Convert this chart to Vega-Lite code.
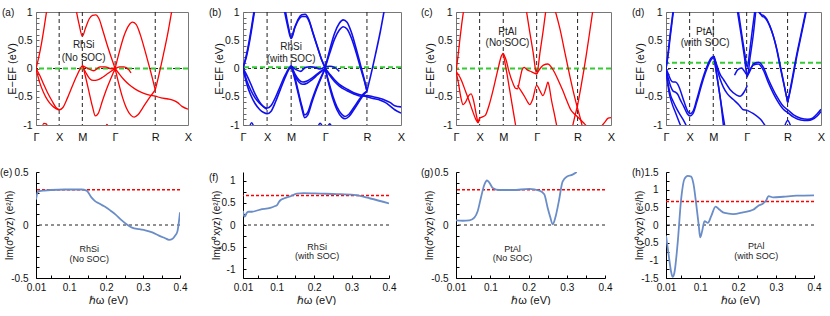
{
"$schema":"https://vega.github.io/schema/vega-lite/v6.json",
"padding":{"left":0,"top":6,"right":0,"bottom":0},
"columns":4,
"bounds":"flush",
"align":"each",
"spacing":{"row":47,"column":55},
"config":{
 "font":"Liberation Sans",
 "view":{"stroke":"#777","strokeWidth":1},
 "axis":{"grid":false,"labelFont":"Liberation Sans","titleFont":"Liberation Sans","labelFontSize":10,"titleFontSize":11,"titleFontWeight":"normal","labelColor":"#111","titleColor":"#111","tickColor":"#666","domainColor":"#000","labelOverlap":false,"labelFlush":false,"tickCount":100},
 "title":{"anchor":"start","frame":"group","offset":0,"baseline":"top","fontSize":10,"fontWeight":"normal","font":"Liberation Sans","color":"#111"}
},
"datasets":{
"ba":[
{"b":"a1","k":0,"E":0},{"b":"a1","k":0.06,"E":0.2},{"b":"a1","k":0.12,"E":0.45},{"b":"a1","k":0.18,"E":0.75},{"b":"a1","k":0.23,"E":1.02},
{"b":"a2","k":0,"E":0},{"b":"a2","k":0.08,"E":-0.25},{"b":"a2","k":0.16,"E":-0.42},{"b":"a2","k":0.25,"E":-0.56},{"b":"a2","k":0.35,"E":-0.66},{"b":"a2","k":0.43,"E":-0.71},{"b":"a2","k":0.5,"E":-0.73},{"b":"a2","k":0.58,"E":-0.69},{"b":"a2","k":0.68,"E":-0.52},{"b":"a2","k":0.78,"E":-0.32},{"b":"a2","k":0.88,"E":-0.13},{"b":"a2","k":0.95,"E":-0.01},{"b":"a2","k":1,"E":0.05},{"b":"a2","k":1.06,"E":-0.12},{"b":"a2","k":1.14,"E":-0.4},{"b":"a2","k":1.22,"E":-0.68},{"b":"a2","k":1.28,"E":-0.84},{"b":"a2","k":1.34,"E":-0.8},{"b":"a2","k":1.43,"E":-0.58},{"b":"a2","k":1.53,"E":-0.35},{"b":"a2","k":1.62,"E":-0.17},{"b":"a2","k":1.707,"E":0},
{"b":"a3","k":0,"E":0},{"b":"a3","k":0.08,"E":-0.12},{"b":"a3","k":0.16,"E":-0.27},{"b":"a3","k":0.25,"E":-0.43},{"b":"a3","k":0.35,"E":-0.58},{"b":"a3","k":0.43,"E":-0.69},{"b":"a3","k":0.5,"E":-0.73},
{"b":"a4","k":1,"E":0.05},{"b":"a4","k":1.08,"E":-0.08},{"b":"a4","k":1.16,"E":-0.18},{"b":"a4","k":1.24,"E":-0.21},{"b":"a4","k":1.33,"E":-0.2},{"b":"a4","k":1.43,"E":-0.16},{"b":"a4","k":1.55,"E":-0.09},{"b":"a4","k":1.707,"E":0},
{"b":"a5","k":1,"E":0.05},{"b":"a5","k":1.12,"E":0},{"b":"a5","k":1.25,"E":-0.04},{"b":"a5","k":1.38,"E":0.03},{"b":"a5","k":1.5,"E":0.03},{"b":"a5","k":1.6,"E":0},{"b":"a5","k":1.707,"E":0},{"b":"a5","k":1.8,"E":0.03},{"b":"a5","k":1.9,"E":0.03},{"b":"a5","k":2,"E":-0.02},{"b":"a5","k":2.05,"E":-0.08},
{"b":"a6","k":0.87,"E":1.02},{"b":"a6","k":0.93,"E":0.78},{"b":"a6","k":1,"E":0.57},{"b":"a6","k":1.07,"E":0.72},{"b":"a6","k":1.15,"E":0.88},{"b":"a6","k":1.22,"E":0.94},{"b":"a6","k":1.29,"E":0.95},{"b":"a6","k":1.36,"E":0.88},{"b":"a6","k":1.45,"E":0.65},{"b":"a6","k":1.55,"E":0.38},{"b":"a6","k":1.63,"E":0.18},{"b":"a6","k":1.707,"E":0},
{"b":"a7","k":1.707,"E":0},{"b":"a7","k":1.8,"E":0.3},{"b":"a7","k":1.9,"E":0.58},{"b":"a7","k":2,"E":0.76},{"b":"a7","k":2.08,"E":0.82},{"b":"a7","k":2.16,"E":0.78},{"b":"a7","k":2.25,"E":0.6},{"b":"a7","k":2.35,"E":0.32},{"b":"a7","k":2.45,"E":0.02},{"b":"a7","k":2.52,"E":-0.2},{"b":"a7","k":2.573,"E":-0.38},
{"b":"a8","k":1.707,"E":0},{"b":"a8","k":1.78,"E":-0.25},{"b":"a8","k":1.87,"E":-0.52},{"b":"a8","k":1.95,"E":-0.7},{"b":"a8","k":2.05,"E":-0.83},{"b":"a8","k":2.12,"E":-0.86},{"b":"a8","k":2.2,"E":-0.82},{"b":"a8","k":2.3,"E":-0.7},{"b":"a8","k":2.42,"E":-0.55},{"b":"a8","k":2.5,"E":-0.46},{"b":"a8","k":2.573,"E":-0.38},
{"b":"a9","k":1.707,"E":0},{"b":"a9","k":1.8,"E":-0.1},{"b":"a9","k":1.9,"E":-0.2},{"b":"a9","k":2,"E":-0.28},{"b":"a9","k":2.15,"E":-0.37},{"b":"a9","k":2.3,"E":-0.43},{"b":"a9","k":2.45,"E":-0.47},{"b":"a9","k":2.573,"E":-0.49},{"b":"a9","k":2.7,"E":-0.52},{"b":"a9","k":2.85,"E":-0.54},{"b":"a9","k":2.95,"E":-0.56},{"b":"a9","k":3.05,"E":-0.6},{"b":"a9","k":3.15,"E":-0.67},{"b":"a9","k":3.28,"E":-0.72},
{"b":"a10","k":2.573,"E":-0.38},{"b":"a10","k":2.65,"E":-0.12},{"b":"a10","k":2.75,"E":0.25},{"b":"a10","k":2.85,"E":0.65},{"b":"a10","k":2.93,"E":1.02},
{"b":"a11","k":0.13,"E":-1.05},{"b":"a11","k":0.17,"E":-0.97},{"b":"a11","k":0.22,"E":-0.98},{"b":"a11","k":0.26,"E":-1.05},
{"b":"a12","k":1.5,"E":-1.05},{"b":"a12","k":1.53,"E":-0.99},{"b":"a12","k":1.57,"E":-1.05}
],
"bb":[
{"b":"b1","k":0,"E":0},{"b":"b1","k":0.06,"E":0.2},{"b":"b1","k":0.12,"E":0.45},{"b":"b1","k":0.18,"E":0.75},{"b":"b1","k":0.23,"E":1.02},
{"b":"b1b","k":0,"E":0.02},{"b":"b1b","k":0.068,"E":0.2},{"b":"b1b","k":0.13,"E":0.45},{"b":"b1b","k":0.19,"E":0.75},{"b":"b1b","k":0.24,"E":1.02},
{"b":"b2","k":0,"E":0},{"b":"b2","k":0.08,"E":-0.28},{"b":"b2","k":0.16,"E":-0.47},{"b":"b2","k":0.25,"E":-0.62},{"b":"b2","k":0.35,"E":-0.73},{"b":"b2","k":0.43,"E":-0.78},{"b":"b2","k":0.5,"E":-0.8},{"b":"b2","k":0.58,"E":-0.76},{"b":"b2","k":0.68,"E":-0.58},{"b":"b2","k":0.78,"E":-0.36},{"b":"b2","k":0.88,"E":-0.15},{"b":"b2","k":0.95,"E":-0.02},{"b":"b2","k":1,"E":0.03},{"b":"b2","k":1.06,"E":-0.14},{"b":"b2","k":1.14,"E":-0.42},{"b":"b2","k":1.22,"E":-0.7},{"b":"b2","k":1.28,"E":-0.87},{"b":"b2","k":1.34,"E":-0.83},{"b":"b2","k":1.43,"E":-0.6},{"b":"b2","k":1.53,"E":-0.36},{"b":"b2","k":1.62,"E":-0.17},{"b":"b2","k":1.707,"E":0},
{"b":"b2b","k":0,"E":0},{"b":"b2b","k":0.08,"E":-0.22},{"b":"b2b","k":0.16,"E":-0.38},{"b":"b2b","k":0.25,"E":-0.52},{"b":"b2b","k":0.35,"E":-0.62},{"b":"b2b","k":0.43,"E":-0.68},{"b":"b2b","k":0.5,"E":-0.7},{"b":"b2b","k":0.58,"E":-0.66},{"b":"b2b","k":0.68,"E":-0.5},{"b":"b2b","k":0.78,"E":-0.3},{"b":"b2b","k":0.88,"E":-0.11},{"b":"b2b","k":0.95,"E":0},{"b":"b2b","k":1,"E":0.05},{"b":"b2b","k":1.06,"E":-0.1},{"b":"b2b","k":1.14,"E":-0.38},{"b":"b2b","k":1.22,"E":-0.66},{"b":"b2b","k":1.28,"E":-0.82},{"b":"b2b","k":1.34,"E":-0.78},{"b":"b2b","k":1.43,"E":-0.56},{"b":"b2b","k":1.53,"E":-0.33},{"b":"b2b","k":1.62,"E":-0.15},{"b":"b2b","k":1.707,"E":0},
{"b":"b3","k":0,"E":0},{"b":"b3","k":0.08,"E":-0.12},{"b":"b3","k":0.16,"E":-0.27},{"b":"b3","k":0.25,"E":-0.45},{"b":"b3","k":0.35,"E":-0.6},{"b":"b3","k":0.43,"E":-0.68},{"b":"b3","k":0.5,"E":-0.72},
{"b":"b4","k":1,"E":0.05},{"b":"b4","k":1.08,"E":-0.1},{"b":"b4","k":1.16,"E":-0.2},{"b":"b4","k":1.24,"E":-0.24},{"b":"b4","k":1.33,"E":-0.22},{"b":"b4","k":1.43,"E":-0.17},{"b":"b4","k":1.55,"E":-0.09},{"b":"b4","k":1.707,"E":0},
{"b":"b4b","k":1,"E":0.04},{"b":"b4b","k":1.08,"E":-0.13},{"b":"b4b","k":1.16,"E":-0.24},{"b":"b4b","k":1.24,"E":-0.28},{"b":"b4b","k":1.33,"E":-0.26},{"b":"b4b","k":1.43,"E":-0.2},{"b":"b4b","k":1.55,"E":-0.11},{"b":"b4b","k":1.707,"E":0},
{"b":"b5","k":1,"E":0.04},{"b":"b5","k":1.1,"E":-0.02},{"b":"b5","k":1.2,"E":-0.05},{"b":"b5","k":1.3,"E":0.02},{"b":"b5","k":1.4,"E":0.03},{"b":"b5","k":1.5,"E":0.02},{"b":"b5","k":1.6,"E":-0.01},{"b":"b5","k":1.707,"E":0.03},{"b":"b5","k":1.8,"E":0.04},{"b":"b5","k":1.9,"E":0.02},{"b":"b5","k":2,"E":-0.05},
{"b":"b6","k":0.88,"E":1.02},{"b":"b6","k":0.94,"E":0.75},{"b":"b6","k":1,"E":0.55},{"b":"b6","k":1.07,"E":0.72},{"b":"b6","k":1.15,"E":0.88},{"b":"b6","k":1.22,"E":0.95},{"b":"b6","k":1.29,"E":0.96},{"b":"b6","k":1.36,"E":0.88},{"b":"b6","k":1.45,"E":0.64},{"b":"b6","k":1.55,"E":0.37},{"b":"b6","k":1.63,"E":0.16},{"b":"b6","k":1.707,"E":0.02},
{"b":"b6b","k":0.86,"E":1.02},{"b":"b6b","k":0.93,"E":0.74},{"b":"b6b","k":1,"E":0.53},{"b":"b6b","k":1.08,"E":0.73},{"b":"b6b","k":1.16,"E":0.87},{"b":"b6b","k":1.23,"E":0.92},{"b":"b6b","k":1.3,"E":0.92},{"b":"b6b","k":1.37,"E":0.84},{"b":"b6b","k":1.46,"E":0.6},{"b":"b6b","k":1.56,"E":0.34},{"b":"b6b","k":1.64,"E":0.14},{"b":"b6b","k":1.707,"E":0},
{"b":"b7","k":1.707,"E":0.02},{"b":"b7","k":1.8,"E":0.33},{"b":"b7","k":1.9,"E":0.62},{"b":"b7","k":2,"E":0.8},{"b":"b7","k":2.08,"E":0.86},{"b":"b7","k":2.16,"E":0.82},{"b":"b7","k":2.25,"E":0.64},{"b":"b7","k":2.35,"E":0.35},{"b":"b7","k":2.45,"E":0.03},{"b":"b7","k":2.52,"E":-0.2},{"b":"b7","k":2.573,"E":-0.4},
{"b":"b7b","k":1.707,"E":0.02},{"b":"b7b","k":1.8,"E":0.27},{"b":"b7b","k":1.9,"E":0.52},{"b":"b7b","k":2,"E":0.68},{"b":"b7b","k":2.08,"E":0.74},{"b":"b7b","k":2.16,"E":0.7},{"b":"b7b","k":2.25,"E":0.54},{"b":"b7b","k":2.35,"E":0.28},{"b":"b7b","k":2.45,"E":-0.02},{"b":"b7b","k":2.52,"E":-0.22},{"b":"b7b","k":2.573,"E":-0.4},
{"b":"b8","k":1.707,"E":0},{"b":"b8","k":1.78,"E":-0.27},{"b":"b8","k":1.87,"E":-0.55},{"b":"b8","k":1.95,"E":-0.73},{"b":"b8","k":2.05,"E":-0.86},{"b":"b8","k":2.12,"E":-0.89},{"b":"b8","k":2.2,"E":-0.85},{"b":"b8","k":2.3,"E":-0.73},{"b":"b8","k":2.42,"E":-0.57},{"b":"b8","k":2.5,"E":-0.47},{"b":"b8","k":2.573,"E":-0.4},
{"b":"b8b","k":1.707,"E":0},{"b":"b8b","k":1.78,"E":-0.24},{"b":"b8b","k":1.87,"E":-0.5},{"b":"b8b","k":1.95,"E":-0.68},{"b":"b8b","k":2.05,"E":-0.81},{"b":"b8b","k":2.12,"E":-0.85},{"b":"b8b","k":2.2,"E":-0.81},{"b":"b8b","k":2.3,"E":-0.69},{"b":"b8b","k":2.42,"E":-0.54},{"b":"b8b","k":2.5,"E":-0.45},{"b":"b8b","k":2.573,"E":-0.4},
{"b":"b9","k":1.707,"E":0},{"b":"b9","k":1.8,"E":-0.1},{"b":"b9","k":1.9,"E":-0.2},{"b":"b9","k":2,"E":-0.28},{"b":"b9","k":2.15,"E":-0.36},{"b":"b9","k":2.3,"E":-0.43},{"b":"b9","k":2.45,"E":-0.47},{"b":"b9","k":2.573,"E":-0.5},{"b":"b9","k":2.7,"E":-0.53},{"b":"b9","k":2.85,"E":-0.56},{"b":"b9","k":2.95,"E":-0.6},{"b":"b9","k":3.05,"E":-0.66},{"b":"b9","k":3.15,"E":-0.73},{"b":"b9","k":3.28,"E":-0.79},
{"b":"b9b","k":1.707,"E":0},{"b":"b9b","k":1.8,"E":-0.12},{"b":"b9b","k":1.9,"E":-0.23},{"b":"b9b","k":2,"E":-0.31},{"b":"b9b","k":2.15,"E":-0.39},{"b":"b9b","k":2.3,"E":-0.45},{"b":"b9b","k":2.45,"E":-0.49},{"b":"b9b","k":2.573,"E":-0.48},{"b":"b9b","k":2.7,"E":-0.5},{"b":"b9b","k":2.85,"E":-0.53},{"b":"b9b","k":2.95,"E":-0.56},{"b":"b9b","k":3.05,"E":-0.6},{"b":"b9b","k":3.15,"E":-0.66},{"b":"b9b","k":3.28,"E":-0.68},
{"b":"b10","k":2.573,"E":-0.4},{"b":"b10","k":2.65,"E":-0.13},{"b":"b10","k":2.75,"E":0.25},{"b":"b10","k":2.85,"E":0.65},{"b":"b10","k":2.93,"E":1.02},
{"b":"b11","k":0.13,"E":-1.05},{"b":"b11","k":0.18,"E":-0.96},{"b":"b11","k":0.23,"E":-1.05},
{"b":"b12","k":1.55,"E":-1.05},{"b":"b12","k":1.6,"E":-0.97},{"b":"b12","k":1.66,"E":-1.05},
{"b":"b13","k":1.75,"E":-1.05},{"b":"b13","k":1.8,"E":-0.98},{"b":"b13","k":1.85,"E":-1.05}
],
"bc":[
{"b":"c1","k":0,"E":-0.05},{"b":"c1","k":0.04,"E":0.2},{"b":"c1","k":0.08,"E":0.5},{"b":"c1","k":0.12,"E":0.78},{"b":"c1","k":0.16,"E":1.02},
{"b":"c2","k":0,"E":-0.05},{"b":"c2","k":0.05,"E":-0.25},{"b":"c2","k":0.1,"E":-0.5},{"b":"c2","k":0.15,"E":-0.64},{"b":"c2","k":0.2,"E":-0.6},{"b":"c2","k":0.27,"E":-0.48},{"b":"c2","k":0.32,"E":-0.45},{"b":"c2","k":0.38,"E":-0.6},{"b":"c2","k":0.43,"E":-0.82},{"b":"c2","k":0.47,"E":-0.95},{"b":"c2","k":0.5,"E":-0.88},{"b":"c2","k":0.55,"E":-0.86},{"b":"c2","k":0.62,"E":-0.83},{"b":"c2","k":0.7,"E":-0.65},{"b":"c2","k":0.8,"E":-0.33},{"b":"c2","k":0.9,"E":0.03},{"b":"c2","k":0.96,"E":0.22},{"b":"c2","k":1,"E":0.27},
{"b":"c3","k":0,"E":-0.05},{"b":"c3","k":0.06,"E":-0.12},{"b":"c3","k":0.12,"E":-0.22},{"b":"c3","k":0.2,"E":-0.4},{"b":"c3","k":0.28,"E":-0.58},{"b":"c3","k":0.35,"E":-0.75},{"b":"c3","k":0.42,"E":-0.9},{"b":"c3","k":0.47,"E":-0.96},{"b":"c3","k":0.5,"E":-0.88},
{"b":"c4","k":1,"E":0.27},{"b":"c4","k":1.06,"E":0.15},{"b":"c4","k":1.12,"E":-0.05},{"b":"c4","k":1.2,"E":-0.25},{"b":"c4","k":1.26,"E":-0.35},{"b":"c4","k":1.3,"E":-0.36},{"b":"c4","k":1.35,"E":-0.2},{"b":"c4","k":1.4,"E":-0.02},{"b":"c4","k":1.44,"E":0.02},{"b":"c4","k":1.5,"E":-0.02},{"b":"c4","k":1.6,"E":-0.06},{"b":"c4","k":1.707,"E":-0.1},
{"b":"c5","k":1,"E":0.27},{"b":"c5","k":1.08,"E":-0.1},{"b":"c5","k":1.15,"E":-0.45},{"b":"c5","k":1.22,"E":-0.8},{"b":"c5","k":1.27,"E":-1.05},
{"b":"c6","k":1.49,"E":1.02},{"b":"c6","k":1.56,"E":0.65},{"b":"c6","k":1.63,"E":0.3},{"b":"c6","k":1.707,"E":-0.1},{"b":"c6","k":1.78,"E":0.3},{"b":"c6","k":1.85,"E":0.7},{"b":"c6","k":1.9,"E":1.02},
{"b":"c7","k":1.707,"E":-0.1},{"b":"c7","k":1.78,"E":0},{"b":"c7","k":1.85,"E":0.06},{"b":"c7","k":1.946,"E":0.08},{"b":"c7","k":2.02,"E":0.02},{"b":"c7","k":2.086,"E":-0.07},{"b":"c7","k":2.17,"E":-0.22},{"b":"c7","k":2.26,"E":-0.39},{"b":"c7","k":2.35,"E":-0.58},{"b":"c7","k":2.437,"E":-0.74},{"b":"c7","k":2.5,"E":-0.8},{"b":"c7","k":2.564,"E":-0.85},{"b":"c7","k":2.65,"E":-0.92},{"b":"c7","k":2.72,"E":-0.98},{"b":"c7","k":2.8,"E":-1.05},
{"b":"c8","k":1.3,"E":-0.3},{"b":"c8","k":1.38,"E":-0.4},{"b":"c8","k":1.454,"E":-0.5},{"b":"c8","k":1.52,"E":-0.6},{"b":"c8","k":1.56,"E":-0.64},{"b":"c8","k":1.62,"E":-0.55},{"b":"c8","k":1.707,"E":-0.3},{"b":"c8","k":1.78,"E":-0.4},{"b":"c8","k":1.84,"E":-0.48},{"b":"c8","k":1.9,"E":-0.36},{"b":"c8","k":1.946,"E":-0.24},{"b":"c8","k":1.98,"E":-0.35},{"b":"c8","k":2.016,"E":-0.54},{"b":"c8","k":2.08,"E":-0.8},{"b":"c8","k":2.14,"E":-1.05},
{"b":"c9","k":2.1,"E":1.02},{"b":"c9","k":2.2,"E":0.7},{"b":"c9","k":2.3,"E":0.3},{"b":"c9","k":2.4,"E":-0.1},{"b":"c9","k":2.48,"E":-0.4},{"b":"c9","k":2.564,"E":-0.68},{"b":"c9","k":2.63,"E":-0.88},{"b":"c9","k":2.68,"E":-1.05},
{"b":"c10","k":2.46,"E":-1.05},{"b":"c10","k":2.5,"E":-0.9},{"b":"c10","k":2.564,"E":-0.68},{"b":"c10","k":2.65,"E":-0.3},{"b":"c10","k":2.75,"E":0.2},{"b":"c10","k":2.83,"E":0.65},{"b":"c10","k":2.894,"E":1.02},
{"b":"c11","k":3.05,"E":-1.05},{"b":"c11","k":3.15,"E":-0.95},{"b":"c11","k":3.22,"E":-0.88},{"b":"c11","k":3.28,"E":-0.87}
],
"bd":[
{"b":"d1","k":0,"E":0},{"b":"d1","k":0.04,"E":0.25},{"b":"d1","k":0.08,"E":0.55},{"b":"d1","k":0.12,"E":0.82},{"b":"d1","k":0.15,"E":1.02},
{"b":"d1b","k":0,"E":0},{"b":"d1b","k":0.045,"E":0.24},{"b":"d1b","k":0.088,"E":0.55},{"b":"d1b","k":0.128,"E":0.82},{"b":"d1b","k":0.158,"E":1.02},
{"b":"d2","k":0,"E":0},{"b":"d2","k":0.05,"E":-0.1},{"b":"d2","k":0.1,"E":-0.2},{"b":"d2","k":0.15,"E":-0.24},{"b":"d2","k":0.2,"E":-0.24},{"b":"d2","k":0.25,"E":-0.28},{"b":"d2","k":0.3,"E":-0.38},{"b":"d2","k":0.38,"E":-0.58},{"b":"d2","k":0.45,"E":-0.74},{"b":"d2","k":0.508,"E":-0.8},{"b":"d2","k":0.57,"E":-0.76},{"b":"d2","k":0.65,"E":-0.55},{"b":"d2","k":0.75,"E":-0.25},{"b":"d2","k":0.85,"E":0},{"b":"d2","k":0.95,"E":0.18},{"b":"d2","k":1.016,"E":0.22},
{"b":"d2b","k":0,"E":0},{"b":"d2b","k":0.05,"E":-0.18},{"b":"d2b","k":0.1,"E":-0.32},{"b":"d2b","k":0.15,"E":-0.4},{"b":"d2b","k":0.2,"E":-0.42},{"b":"d2b","k":0.25,"E":-0.46},{"b":"d2b","k":0.3,"E":-0.55},{"b":"d2b","k":0.38,"E":-0.68},{"b":"d2b","k":0.45,"E":-0.8},{"b":"d2b","k":0.508,"E":-0.84},{"b":"d2b","k":0.57,"E":-0.8},{"b":"d2b","k":0.65,"E":-0.6},{"b":"d2b","k":0.75,"E":-0.3},{"b":"d2b","k":0.85,"E":-0.04},{"b":"d2b","k":0.95,"E":0.15},{"b":"d2b","k":1.016,"E":0.2},
{"b":"d3","k":0,"E":0},{"b":"d3","k":0.05,"E":-0.3},{"b":"d3","k":0.1,"E":-0.48},{"b":"d3","k":0.15,"E":-0.58},{"b":"d3","k":0.22,"E":-0.7},{"b":"d3","k":0.3,"E":-0.82},{"b":"d3","k":0.38,"E":-0.93},{"b":"d3","k":0.45,"E":-1.05},
{"b":"d3b","k":0,"E":0},{"b":"d3b","k":0.06,"E":-0.4},{"b":"d3b","k":0.12,"E":-0.6},{"b":"d3b","k":0.2,"E":-0.78},{"b":"d3b","k":0.28,"E":-0.95},{"b":"d3b","k":0.33,"E":-1.05},
{"b":"d5","k":1.016,"E":0.22},{"b":"d5","k":1.08,"E":0.05},{"b":"d5","k":1.143,"E":-0.1},{"b":"d5","k":1.213,"E":-0.19},{"b":"d5","k":1.354,"E":-0.37},{"b":"d5","k":1.495,"E":-0.47},{"b":"d5","k":1.566,"E":-0.49},{"b":"d5","k":1.65,"E":-0.42},{"b":"d5","k":1.721,"E":-0.3},
{"b":"d5b","k":1.016,"E":0.2},{"b":"d5b","k":1.08,"E":0},{"b":"d5b","k":1.15,"E":-0.2},{"b":"d5b","k":1.213,"E":-0.33},{"b":"d5b","k":1.3,"E":-0.45},{"b":"d5b","k":1.425,"E":-0.55},{"b":"d5b","k":1.55,"E":-0.65},{"b":"d5b","k":1.637,"E":-0.73},{"b":"d5b","k":1.721,"E":-0.74},
{"b":"d6","k":1.016,"E":0.22},{"b":"d6","k":1.08,"E":-0.15},{"b":"d6","k":1.143,"E":-0.49},{"b":"d6","k":1.2,"E":-0.8},{"b":"d6","k":1.25,"E":-1.05},
{"b":"d6b","k":1.016,"E":0.2},{"b":"d6b","k":1.09,"E":-0.2},{"b":"d6b","k":1.16,"E":-0.6},{"b":"d6b","k":1.22,"E":-1.05},
{"b":"d7","k":1.45,"E":-0.12},{"b":"d7","k":1.52,"E":-0.02},{"b":"d7","k":1.6,"E":0.01},{"b":"d7","k":1.66,"E":-0.05},{"b":"d7","k":1.721,"E":-0.12},{"b":"d7","k":1.79,"E":-0.02},{"b":"d7","k":1.848,"E":0.08},{"b":"d7","k":1.954,"E":0.11},{"b":"d7","k":2.06,"E":0.02},{"b":"d7","k":2.166,"E":-0.19},{"b":"d7","k":2.342,"E":-0.49},{"b":"d7","k":2.483,"E":-0.67},{"b":"d7","k":2.575,"E":-0.73},{"b":"d7","k":2.7,"E":-0.82},{"b":"d7","k":2.85,"E":-0.88},{"b":"d7","k":3,"E":-0.9},{"b":"d7","k":3.1,"E":-0.88},{"b":"d7","k":3.2,"E":-0.8},{"b":"d7","k":3.28,"E":-0.72},
{"b":"d7b","k":1.721,"E":-0.1},{"b":"d7b","k":1.79,"E":0},{"b":"d7b","k":1.848,"E":0.06},{"b":"d7b","k":1.954,"E":0.08},{"b":"d7b","k":2.06,"E":-0.03},{"b":"d7b","k":2.166,"E":-0.25},{"b":"d7b","k":2.342,"E":-0.55},{"b":"d7b","k":2.483,"E":-0.72},{"b":"d7b","k":2.575,"E":-0.78},{"b":"d7b","k":2.7,"E":-0.86},{"b":"d7b","k":2.85,"E":-0.91},{"b":"d7b","k":3,"E":-0.92},{"b":"d7b","k":3.1,"E":-0.9},{"b":"d7b","k":3.2,"E":-0.84},{"b":"d7b","k":3.28,"E":-0.76},
{"b":"d8","k":1.53,"E":1.02},{"b":"d8","k":1.6,"E":0.62},{"b":"d8","k":1.67,"E":0.25},{"b":"d8","k":1.721,"E":0.02},{"b":"d8","k":1.77,"E":0.3},{"b":"d8","k":1.83,"E":0.7},{"b":"d8","k":1.88,"E":1.02},
{"b":"d8b","k":1.51,"E":1.02},{"b":"d8b","k":1.59,"E":0.6},{"b":"d8b","k":1.66,"E":0.2},{"b":"d8b","k":1.721,"E":-0.15},{"b":"d8b","k":1.78,"E":0.2},{"b":"d8b","k":1.85,"E":0.62},{"b":"d8b","k":1.9,"E":1.02},
{"b":"d9","k":1.95,"E":1.02},{"b":"d9","k":2,"E":0.96},{"b":"d9","k":2.06,"E":0.94},{"b":"d9","k":2.13,"E":0.88},{"b":"d9","k":2.2,"E":0.75},{"b":"d9","k":2.27,"E":0.58},{"b":"d9","k":2.34,"E":0.35},{"b":"d9","k":2.41,"E":0.05},{"b":"d9","k":2.5,"E":-0.3},{"b":"d9","k":2.575,"E":-0.6},
{"b":"d9b","k":1.97,"E":1.02},{"b":"d9b","k":2.03,"E":0.93},{"b":"d9b","k":2.09,"E":0.9},{"b":"d9b","k":2.15,"E":0.83},{"b":"d9b","k":2.22,"E":0.7},{"b":"d9b","k":2.29,"E":0.52},{"b":"d9b","k":2.36,"E":0.29},{"b":"d9b","k":2.43,"E":0},{"b":"d9b","k":2.51,"E":-0.33},{"b":"d9b","k":2.575,"E":-0.6},
{"b":"d10","k":2.575,"E":-0.6},{"b":"d10","k":2.65,"E":-0.27},{"b":"d10","k":2.75,"E":0.18},{"b":"d10","k":2.86,"E":0.62},{"b":"d10","k":2.96,"E":1.02},
{"b":"d10b","k":2.575,"E":-0.6},{"b":"d10b","k":2.66,"E":-0.27},{"b":"d10b","k":2.76,"E":0.18},{"b":"d10b","k":2.87,"E":0.62},{"b":"d10b","k":2.97,"E":1.02},
{"b":"d11","k":2.5,"E":-1.05},{"b":"d11","k":2.575,"E":-0.92},{"b":"d11","k":2.65,"E":-1.05},
{"b":"d12","k":1.721,"E":-0.74},{"b":"d12","k":1.85,"E":-0.8},{"b":"d12","k":2,"E":-0.9},{"b":"d12","k":2.13,"E":-1.05}
],
"oe":[{"w":0.01,"v":0.24},{"w":0.0146,"v":0.31},{"w":0.02,"v":0.32},{"w":0.0328,"v":0.325},{"w":0.05,"v":0.33},{"w":0.0875,"v":0.335},{"w":0.133,"v":0.335},{"w":0.147,"v":0.325},{"w":0.16,"v":0.26},{"w":0.17,"v":0.225},{"w":0.18,"v":0.205},{"w":0.19,"v":0.185},{"w":0.2,"v":0.165},{"w":0.212,"v":0.135},{"w":0.225,"v":0.1},{"w":0.24,"v":0.05},{"w":0.256,"v":0.005},{"w":0.27,"v":-0.025},{"w":0.29,"v":-0.04},{"w":0.306,"v":-0.05},{"w":0.325,"v":-0.07},{"w":0.343,"v":-0.1},{"w":0.36,"v":-0.125},{"w":0.37,"v":-0.14},{"w":0.38,"v":-0.13},{"w":0.387,"v":-0.1},{"w":0.393,"v":-0.06},{"w":0.4,"v":0.12}],
"of":[{"w":0.01,"v":0.32},{"w":0.0136,"v":0.19},{"w":0.016,"v":0.2},{"w":0.0189,"v":0.26},{"w":0.0251,"v":0.3},{"w":0.034,"v":0.3},{"w":0.056,"v":0.35},{"w":0.083,"v":0.39},{"w":0.096,"v":0.43},{"w":0.101,"v":0.45},{"w":0.106,"v":0.52},{"w":0.11,"v":0.56},{"w":0.119,"v":0.6},{"w":0.136,"v":0.65},{"w":0.154,"v":0.71},{"w":0.172,"v":0.72},{"w":0.217,"v":0.71},{"w":0.261,"v":0.7},{"w":0.306,"v":0.68},{"w":0.35,"v":0.6},{"w":0.4,"v":0.49}],
"og":[{"w":0.01,"v":0.044},{"w":0.0275,"v":0.04},{"w":0.0449,"v":0.044},{"w":0.058,"v":0.07},{"w":0.0667,"v":0.13},{"w":0.0754,"v":0.26},{"w":0.0842,"v":0.38},{"w":0.0911,"v":0.42},{"w":0.0972,"v":0.4},{"w":0.106,"v":0.35},{"w":0.1234,"v":0.33},{"w":0.158,"v":0.33},{"w":0.202,"v":0.34},{"w":0.228,"v":0.325},{"w":0.241,"v":0.29},{"w":0.25,"v":0.16},{"w":0.257,"v":0.07},{"w":0.263,"v":0.006},{"w":0.27,"v":0.07},{"w":0.279,"v":0.22},{"w":0.289,"v":0.41},{"w":0.302,"v":0.46},{"w":0.315,"v":0.475},{"w":0.326,"v":0.5}],
"oh":[{"w":0.01,"v":-0.3},{"w":0.0171,"v":-0.85},{"w":0.0232,"v":-1.31},{"w":0.0276,"v":-1.47},{"w":0.032,"v":-1.36},{"w":0.0409,"v":-0.49},{"w":0.0497,"v":0.71},{"w":0.0585,"v":1.3},{"w":0.0674,"v":1.39},{"w":0.0762,"v":1.37},{"w":0.0823,"v":1.17},{"w":0.0894,"v":0.61},{"w":0.0965,"v":-0.03},{"w":0.1,"v":-0.35},{"w":0.1053,"v":-0.17},{"w":0.1115,"v":0.11},{"w":0.1203,"v":0.06},{"w":0.1291,"v":0.25},{"w":0.1406,"v":0.52},{"w":0.1512,"v":0.43},{"w":0.1644,"v":0.34},{"w":0.1865,"v":0.31},{"w":0.213,"v":0.36},{"w":0.2394,"v":0.43},{"w":0.2526,"v":0.54},{"w":0.2659,"v":0.61},{"w":0.2747,"v":0.71},{"w":0.28,"v":0.82},{"w":0.2924,"v":0.78},{"w":0.3188,"v":0.8},{"w":0.3541,"v":0.83},{"w":0.4,"v":0.84}]
},
"concat":[
{"width":152,"height":113,"title":{"text":"(a)","dx":-34,"dy":15},
 "layer":[
  {"data":{"values":[{"k":0.5},{"k":1},{"k":1.707},{"k":2.573}]},"mark":{"type":"rule","color":"#222","strokeDash":[4,3],"strokeWidth":1},"encoding":{"x":{"field":"k","type":"quantitative"}}},
  {"data":{"values":[{}]},"mark":{"type":"rule","color":"#222","strokeDash":[3,3],"strokeWidth":1},"encoding":{"y":{"datum":0}}},
  {"data":{"values":[{}]},"mark":{"type":"rule","color":"#33cc33","strokeDash":[5,3],"strokeWidth":2},"encoding":{"y":{"datum":0}}},
  {"data":{"name":"ba"},"mark":{"type":"line","clip":true,"color":"#ff0000","strokeWidth":1.3,"interpolate":"monotone"},
   "encoding":{"x":{"field":"k","type":"quantitative","scale":{"domain":[0,3.28],"nice":false,"zero":false},"axis":{"values":[0,0.5,1,1.707,2.573,3.28],"tickCount":100,"labelExpr":"datum.value==0 ? 'Γ' : datum.value==0.5 ? 'X' : datum.value==1 ? 'M' : datum.value==1.707 ? 'Γ' : datum.value==2.573 ? 'R' : 'X'","ticks":false,"domain":false,"title":null,"labelFontSize":11,"labelPadding":6,"labelOverlap":false,"labelFlush":false}},
    "y":{"field":"E","type":"quantitative","scale":{"domain":[-1,1],"nice":false},"axis":{"values":[-1,-0.9,-0.8,-0.7,-0.6,-0.5,-0.4,-0.3,-0.2,-0.1,0,0.1,0.2,0.3,0.4,0.5,0.6,0.7,0.8,0.9,1],"tickCount":100,"labelExpr":"abs(datum.value*2-round(datum.value*2))<0.001 ? datum.value : ''","tickSize":-3,"domain":false,"labelPadding":7,"labelFontSize":10.5,"labelOverlap":false,"labelFlush":false,"title":"E−EF (eV)","titlePadding":-4}},
    "detail":{"field":"b"}}},
  {"data":{"values":[{"k":1.03,"E":0.41,"t":"RhSi"},{"k":1.03,"E":0.19,"t":"(No SOC)"}]},"mark":{"type":"text","fontSize":10,"color":"#222"},"encoding":{"x":{"field":"k","type":"quantitative"},"y":{"field":"E","type":"quantitative"},"text":{"field":"t"}}}
 ]},
{"width":158,"height":113,"title":{"text":"(b)","dx":-34,"dy":15},
 "layer":[
  {"data":{"values":[{"k":0.5},{"k":1},{"k":1.707},{"k":2.573}]},"mark":{"type":"rule","color":"#222","strokeDash":[4,3],"strokeWidth":1},"encoding":{"x":{"field":"k","type":"quantitative"}}},
  {"data":{"values":[{}]},"mark":{"type":"rule","color":"#222","strokeDash":[3,3],"strokeWidth":1},"encoding":{"y":{"datum":0}}},
  {"data":{"values":[{}]},"mark":{"type":"rule","color":"#33cc33","strokeDash":[5,3],"strokeWidth":2},"encoding":{"y":{"datum":0.02}}},
  {"data":{"name":"bb"},"mark":{"type":"line","clip":true,"color":"#1010ee","strokeWidth":1.6,"interpolate":"monotone"},
   "encoding":{"x":{"field":"k","type":"quantitative","scale":{"domain":[0,3.28],"nice":false,"zero":false},"axis":{"values":[0,0.5,1,1.707,2.573,3.28],"tickCount":100,"labelExpr":"datum.value==0 ? 'Γ' : datum.value==0.5 ? 'X' : datum.value==1 ? 'M' : datum.value==1.707 ? 'Γ' : datum.value==2.573 ? 'R' : 'X'","ticks":false,"domain":false,"title":null,"labelFontSize":11,"labelPadding":6,"labelOverlap":false,"labelFlush":false}},
    "y":{"field":"E","type":"quantitative","scale":{"domain":[-1,1],"nice":false},"axis":{"values":[-1,-0.9,-0.8,-0.7,-0.6,-0.5,-0.4,-0.3,-0.2,-0.1,0,0.1,0.2,0.3,0.4,0.5,0.6,0.7,0.8,0.9,1],"tickCount":100,"labelExpr":"abs(datum.value*2-round(datum.value*2))<0.001 ? datum.value : ''","tickSize":-3,"domain":false,"labelPadding":7,"labelFontSize":10.5,"labelOverlap":false,"labelFlush":false,"title":"E−EF (eV)","titlePadding":-4}},
    "detail":{"field":"b"}}},
  {"data":{"values":[{"k":1.0,"E":0.38,"t":"RhSi"},{"k":1.0,"E":0.175,"t":"(with SOC)"}]},"mark":{"type":"text","fontSize":10,"color":"#222"},"encoding":{"x":{"field":"k","type":"quantitative"},"y":{"field":"E","type":"quantitative"},"text":{"field":"t"}}}
 ]},
{"width":155,"height":113,"title":{"text":"(c)","dx":-35,"dy":15},
 "layer":[
  {"data":{"values":[{"k":0.5},{"k":1},{"k":1.707},{"k":2.573}]},"mark":{"type":"rule","color":"#222","strokeDash":[4,3],"strokeWidth":1},"encoding":{"x":{"field":"k","type":"quantitative"}}},
  {"data":{"values":[{}]},"mark":{"type":"rule","color":"#33cc33","strokeDash":[5,3],"strokeWidth":2},"encoding":{"y":{"datum":0}}},
  {"data":{"name":"bc"},"mark":{"type":"line","clip":true,"color":"#ff0000","strokeWidth":1.3,"interpolate":"monotone"},
   "encoding":{"x":{"field":"k","type":"quantitative","scale":{"domain":[0,3.28],"nice":false,"zero":false},"axis":{"values":[0,0.5,1,1.707,2.573,3.28],"tickCount":100,"labelExpr":"datum.value==0 ? 'Γ' : datum.value==0.5 ? 'X' : datum.value==1 ? 'M' : datum.value==1.707 ? 'Γ' : datum.value==2.573 ? 'R' : 'X'","ticks":false,"domain":false,"title":null,"labelFontSize":11,"labelPadding":6,"labelOverlap":false,"labelFlush":false}},
    "y":{"field":"E","type":"quantitative","scale":{"domain":[-1,1],"nice":false},"axis":{"values":[-1,-0.9,-0.8,-0.7,-0.6,-0.5,-0.4,-0.3,-0.2,-0.1,0,0.1,0.2,0.3,0.4,0.5,0.6,0.7,0.8,0.9,1],"tickCount":100,"labelExpr":"abs(datum.value*2-round(datum.value*2))<0.001 ? datum.value : ''","tickSize":-3,"domain":false,"labelPadding":7,"labelFontSize":10.5,"labelOverlap":false,"labelFlush":false,"title":"E−EF (eV)","titlePadding":-2}},
    "detail":{"field":"b"}}},
  {"data":{"values":[{"k":1.09,"E":0.65,"t":"PtAl"},{"k":1.09,"E":0.46,"t":"(No SOC)"}]},"mark":{"type":"text","fontSize":10,"color":"#222"},"encoding":{"x":{"field":"k","type":"quantitative"},"y":{"field":"E","type":"quantitative"},"text":{"field":"t"}}}
 ]},
{"width":155,"height":113,"title":{"text":"(d)","dx":-34,"dy":15},
 "layer":[
  {"data":{"values":[{"k":0.5},{"k":1},{"k":1.707},{"k":2.573}]},"mark":{"type":"rule","color":"#222","strokeDash":[4,3],"strokeWidth":1},"encoding":{"x":{"field":"k","type":"quantitative"}}},
  {"data":{"values":[{}]},"mark":{"type":"rule","color":"#222","strokeDash":[3,3],"strokeWidth":1},"encoding":{"y":{"datum":0}}},
  {"data":{"values":[{}]},"mark":{"type":"rule","color":"#33cc33","strokeDash":[5,3],"strokeWidth":2},"encoding":{"y":{"datum":0.1}}},
  {"data":{"name":"bd"},"mark":{"type":"line","clip":true,"color":"#1010ee","strokeWidth":1.5,"interpolate":"monotone"},
   "encoding":{"x":{"field":"k","type":"quantitative","scale":{"domain":[0,3.28],"nice":false,"zero":false},"axis":{"values":[0,0.5,1,1.707,2.573,3.28],"tickCount":100,"labelExpr":"datum.value==0 ? 'Γ' : datum.value==0.5 ? 'X' : datum.value==1 ? 'M' : datum.value==1.707 ? 'Γ' : datum.value==2.573 ? 'R' : 'X'","ticks":false,"domain":false,"title":null,"labelFontSize":11,"labelPadding":6,"labelOverlap":false,"labelFlush":false}},
    "y":{"field":"E","type":"quantitative","scale":{"domain":[-1,1],"nice":false},"axis":{"values":[-1,-0.9,-0.8,-0.7,-0.6,-0.5,-0.4,-0.3,-0.2,-0.1,0,0.1,0.2,0.3,0.4,0.5,0.6,0.7,0.8,0.9,1],"tickCount":100,"labelExpr":"abs(datum.value*2-round(datum.value*2))<0.001 ? datum.value : ''","tickSize":-3,"domain":false,"labelPadding":7,"labelFontSize":10.5,"labelOverlap":false,"labelFlush":false,"title":"E−EF (eV)","titlePadding":-2}},
    "detail":{"field":"b"}}},
  {"data":{"values":[{"k":0.83,"E":0.64,"t":"PtAl"},{"k":0.83,"E":0.46,"t":"(with SOC)"}]},"mark":{"type":"text","fontSize":10,"color":"#222"},"encoding":{"x":{"field":"k","type":"quantitative"},"y":{"field":"E","type":"quantitative"},"text":{"field":"t"}}}
 ]},
{"width":144,"height":106,"title":{"text":"(e)","dx":-36,"dy":15},"view":{"stroke":null},
 "layer":[
  {"data":{"values":[{}]},"mark":{"type":"rule","color":"#222","strokeDash":[3,3],"strokeWidth":1},"encoding":{"y":{"datum":0}}},
  {"data":{"values":[{}]},"mark":{"type":"rule","color":"#ff0000","strokeDash":[3,2],"strokeWidth":1.4},"encoding":{"y":{"datum":0.333}}},
  {"data":{"name":"oe"},"mark":{"type":"line","clip":true,"color":"#6a8dc8","strokeWidth":1.8,"interpolate":"monotone"},
   "encoding":{"x":{"field":"w","type":"quantitative","scale":{"domain":[0.01,0.4],"nice":false,"zero":false},"axis":{"values":[0.01,0.05,0.1,0.15,0.2,0.25,0.3,0.35,0.4],"tickCount":100,"labelExpr":"indexof([0.01,0.1,0.2,0.3,0.4],datum.value)>=0 ? datum.value : ''","tickSize":-3,"tickColor":"#000","labelPadding":7,"labelOverlap":false,"labelFlush":false,"title":"ℏω (eV)","titlePadding":2}},
    "y":{"field":"v","type":"quantitative","scale":{"domain":[-0.5,0.5],"nice":false},"axis":{"values":[-0.5,-0.4,-0.3,-0.2,-0.1,0,0.1,0.2,0.3,0.4,0.5],"tickCount":100,"labelExpr":"abs(datum.value*2-round(datum.value*2))<0.001 ? datum.value : ''","tickSize":-3,"tickColor":"#000","labelPadding":11,"labelOverlap":false,"labelFlush":false,"title":"Im(σ⁰xyz) (e²/h)","titleFontSize":10,"titlePadding":-4}}}},
  {"data":{"values":[{"w":0.154,"v":-0.23,"t":"RhSi"},{"w":0.154,"v":-0.32,"t":"(No SOC)"}]},"mark":{"type":"text","fontSize":9,"color":"#222"},"encoding":{"x":{"field":"w","type":"quantitative"},"y":{"field":"v","type":"quantitative"},"text":{"field":"t"}}}
 ]},
{"width":146,"height":106,"title":{"text":"(f)","dx":-34,"dy":15},"view":{"stroke":null},
 "layer":[
  {"data":{"values":[{}]},"mark":{"type":"rule","color":"#222","strokeDash":[3,3],"strokeWidth":1},"encoding":{"y":{"datum":0}}},
  {"data":{"values":[{}]},"mark":{"type":"rule","color":"#ff0000","strokeDash":[3,2],"strokeWidth":1.4},"encoding":{"y":{"datum":0.667}}},
  {"data":{"name":"of"},"mark":{"type":"line","clip":true,"color":"#6a8dc8","strokeWidth":1.8,"interpolate":"monotone"},
   "encoding":{"x":{"field":"w","type":"quantitative","scale":{"domain":[0.01,0.4],"nice":false,"zero":false},"axis":{"values":[0.01,0.05,0.1,0.15,0.2,0.25,0.3,0.35,0.4],"tickCount":100,"labelExpr":"indexof([0.01,0.1,0.2,0.3,0.4],datum.value)>=0 ? datum.value : ''","tickSize":-3,"tickColor":"#000","labelPadding":7,"labelOverlap":false,"labelFlush":false,"title":"ℏω (eV)","titlePadding":2}},
    "y":{"field":"v","type":"quantitative","scale":{"domain":[-1.2,1.2],"nice":false},"axis":{"values":[-1,-0.75,-0.5,-0.25,0,0.25,0.5,0.75,1],"tickCount":100,"labelExpr":"abs(datum.value*2-round(datum.value*2))<0.001 ? datum.value : ''","tickSize":-3,"tickColor":"#000","labelPadding":11,"labelOverlap":false,"labelFlush":false,"title":"Im(σ⁰xyz) (e²/h)","titleFontSize":10,"titlePadding":-4}}}},
  {"data":{"values":[{"w":0.208,"v":-0.49,"t":"RhSi"},{"w":0.208,"v":-0.71,"t":"(with SOC)"}]},"mark":{"type":"text","fontSize":9,"color":"#222"},"encoding":{"x":{"field":"w","type":"quantitative"},"y":{"field":"v","type":"quantitative"},"text":{"field":"t"}}}
 ]},
{"width":149,"height":106,"title":{"text":"(g)","dx":-35,"dy":15},"view":{"stroke":null},
 "layer":[
  {"data":{"values":[{}]},"mark":{"type":"rule","color":"#222","strokeDash":[3,3],"strokeWidth":1},"encoding":{"y":{"datum":0}}},
  {"data":{"values":[{}]},"mark":{"type":"rule","color":"#ff0000","strokeDash":[3,2],"strokeWidth":1.4},"encoding":{"y":{"datum":0.333}}},
  {"data":{"name":"og"},"mark":{"type":"line","clip":true,"color":"#6a8dc8","strokeWidth":1.8,"interpolate":"monotone"},
   "encoding":{"x":{"field":"w","type":"quantitative","scale":{"domain":[0.01,0.4],"nice":false,"zero":false},"axis":{"values":[0.01,0.05,0.1,0.15,0.2,0.25,0.3,0.35,0.4],"tickCount":100,"labelExpr":"indexof([0.01,0.1,0.2,0.3,0.4],datum.value)>=0 ? datum.value : ''","tickSize":-3,"tickColor":"#000","labelPadding":7,"labelOverlap":false,"labelFlush":false,"title":"ℏω (eV)","titlePadding":2}},
    "y":{"field":"v","type":"quantitative","scale":{"domain":[-0.5,0.5],"nice":false},"axis":{"values":[-0.5,-0.4,-0.3,-0.2,-0.1,0,0.1,0.2,0.3,0.4,0.5],"tickCount":100,"labelExpr":"abs(datum.value*2-round(datum.value*2))<0.001 ? datum.value : ''","tickSize":-3,"tickColor":"#000","labelPadding":11,"labelOverlap":false,"labelFlush":false,"title":"Im(σ⁰xyz) (e²/h)","titleFontSize":10,"titlePadding":-4}}}},
  {"data":{"values":[{"w":0.158,"v":-0.228,"t":"PtAl"},{"w":0.158,"v":-0.31,"t":"(No SOC)"}]},"mark":{"type":"text","fontSize":9,"color":"#222"},"encoding":{"x":{"field":"w","type":"quantitative"},"y":{"field":"v","type":"quantitative"},"text":{"field":"t"}}}
 ]},
{"width":148,"height":106,"title":{"text":"(h)","dx":-34,"dy":15},"view":{"stroke":null},
 "layer":[
  {"data":{"values":[{}]},"mark":{"type":"rule","color":"#222","strokeDash":[3,3],"strokeWidth":1},"encoding":{"y":{"datum":0}}},
  {"data":{"values":[{}]},"mark":{"type":"rule","color":"#ff0000","strokeDash":[3,2],"strokeWidth":1.4},"encoding":{"y":{"datum":0.667}}},
  {"data":{"name":"oh"},"mark":{"type":"line","clip":true,"color":"#6a8dc8","strokeWidth":1.8,"interpolate":"monotone"},
   "encoding":{"x":{"field":"w","type":"quantitative","scale":{"domain":[0.01,0.4],"nice":false,"zero":false},"axis":{"values":[0.01,0.05,0.1,0.15,0.2,0.25,0.3,0.35,0.4],"tickCount":100,"labelExpr":"indexof([0.01,0.1,0.2,0.3,0.4],datum.value)>=0 ? datum.value : ''","tickSize":-3,"tickColor":"#000","labelPadding":7,"labelOverlap":false,"labelFlush":false,"title":"ℏω (eV)","titlePadding":2}},
    "y":{"field":"v","type":"quantitative","scale":{"domain":[-1.5,1.5],"nice":false},"axis":{"values":[-1.5,-1.25,-1,-0.75,-0.5,-0.25,0,0.25,0.5,0.75,1,1.25,1.5],"tickCount":100,"labelExpr":"abs(datum.value*2-round(datum.value*2))<0.001 ? datum.value : ''","tickSize":-3,"tickColor":"#000","labelPadding":11,"labelOverlap":false,"labelFlush":false,"title":"Im(σ⁰xyz) (e²/h)","titleFontSize":10,"titlePadding":-4}}}},
  {"data":{"values":[{"w":0.248,"v":-0.6,"t":"PtAl"},{"w":0.248,"v":-0.88,"t":"(with SOC)"}]},"mark":{"type":"text","fontSize":9,"color":"#222"},"encoding":{"x":{"field":"w","type":"quantitative"},"y":{"field":"v","type":"quantitative"},"text":{"field":"t"}}}
 ]}
]
}
